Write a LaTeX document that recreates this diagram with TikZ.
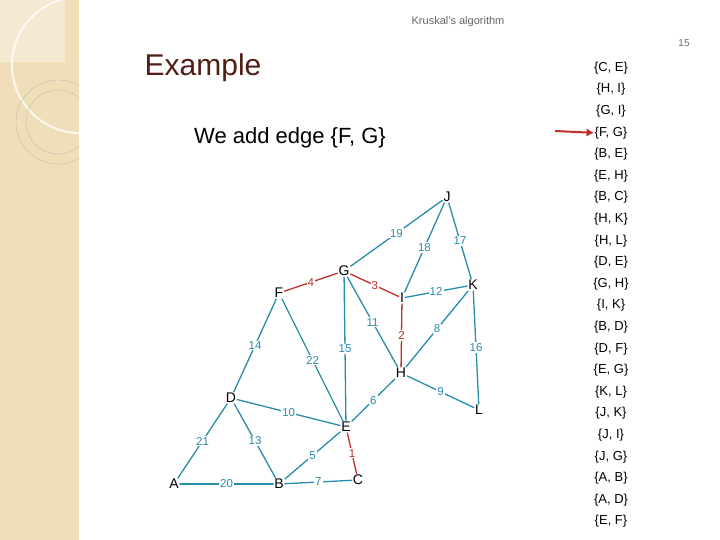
\documentclass[tikz,border=0pt]{standalone}
\usepackage{fontspec}
\setmainfont{Liberation Sans}
\usetikzlibrary{arrows.meta}
\definecolor{edgeblue}{RGB}{40,140,172}
\definecolor{edgered}{RGB}{190,48,40}
\definecolor{titlebrown}{RGB}{80,30,20}
\definecolor{strip}{RGB}{240,222,185}

\begin{document}
\begin{tikzpicture}[
    x=1pt, y=-1pt,
    every node/.style={inner sep=1pt},
    vert/.style={font=\fontsize{14}{14}\selectfont},
    wt/.style={fill=white, text=edgeblue, font=\fontsize{11.5}{12}\selectfont},
    edge/.style={edgeblue, line width=1.3pt, line cap=round},
    chosen/.style={edgered, line width=1.3pt, line cap=round}
]
\useasboundingbox (0,0) rectangle (720,540);

% Slide decoration
\fill[strip] (0,0) rectangle (79,540);
\fill[white, opacity=0.35] (0,0) rectangle (65,62);
\begin{scope}
\clip (0,0) rectangle (79,540);
\draw[white, line width=2pt, opacity=0.8] (80,65) circle (68);
\draw[black!30, line width=0.3pt] (58,122) circle (42);
\draw[black!30, line width=0.3pt] (58,122) circle (32);
\end{scope}

% Headings
\node[text=black!60, font=\fontsize{11}{11}\selectfont] (head) at (458,22) {Kruskal's algorithm};
\node[text=black!60, font=\fontsize{10}{10}\selectfont] (page) at (684,43) {15};
\node[text=titlebrown, font=\fontsize{30}{30}\selectfont] (title) at (203,68) {Example};
\node[font=\fontsize{22}{22}\selectfont] (sub) at (290,138) {We add edge \{F, G\}};

% Vertices
\node[vert] (J) at (447,197) {J};
\node[vert] (G) at (344,271) {G};
\node[vert] (F) at (279,293) {F};
\node[vert] (I) at (402,298) {I};
\node[vert] (K) at (473,285) {K};
\node[vert] (H) at (401,373) {H};
\node[vert] (L) at (479,410) {L};
\node[vert] (D) at (231,398) {D};
\node[vert] (E) at (346,427) {E};
\node[vert] (A) at (174,484) {A};
\node[vert] (B) at (279,484) {B};
\node[vert] (C) at (358,480) {C};

% Edges
\draw[edge] (G) -- node[wt] {19} (J);
\draw[edge] (I) -- node[wt] {18} (J);
\draw[edge] (K) -- node[wt] {17} (J);
\draw[chosen] (F) -- node[wt, text=edgered] {4} (G);
\draw[chosen] (G) -- node[wt, text=edgered] {3} (I);
\draw[edge] (I) -- node[wt] {12} (K);
\draw[edge] (G) -- node[wt] {11} (H);
\draw[chosen] (I) -- node[wt, text=edgered] {2} (H);
\draw[edge] (H) -- node[wt] {8} (K);
\draw[edge] (F) -- node[wt] {14} (D);
\draw[edge] (F) -- node[wt] {22} (E);
\draw[edge] (G) -- node[wt] {15} (E);
\draw[edge] (K) -- node[wt] {16} (L);
\draw[edge] (H) -- node[wt] {9} (L);
\draw[edge] (D) -- node[wt] {10} (E);
\draw[edge] (E) -- node[wt] {6} (H);
\draw[edge] (D) -- node[wt] {21} (A);
\draw[edge] (D) -- node[wt] {13} (B);
\draw[edge] (B) -- node[wt] {5} (E);
\draw[chosen] (E) -- node[wt, text=edgered] {1} (C);
\draw[edge] (A) -- node[wt] {20} (B);
\draw[edge] (B) -- node[wt] {7} (C);

% Sorted edge list
\foreach \u/\v [count=\i from 0] in {C/E,H/I,G/I,F/G,B/E,E/H,B/C,H/K,H/L,D/E,G/H,I/K,B/D,D/F,E/G,K/L,J/K,J/I,J/G,A/B,A/D,E/F}
  \node[font=\fontsize{13}{13}\selectfont] (e\i) at (611,68+21.6*\i) {\{\u, \v\}};
\coordinate (tail) at (555,131);
\draw[-{Triangle[length=7pt,width=7pt]}, edgered, line width=2pt] (tail) -- (e3.west);

\end{tikzpicture}
\end{document}
